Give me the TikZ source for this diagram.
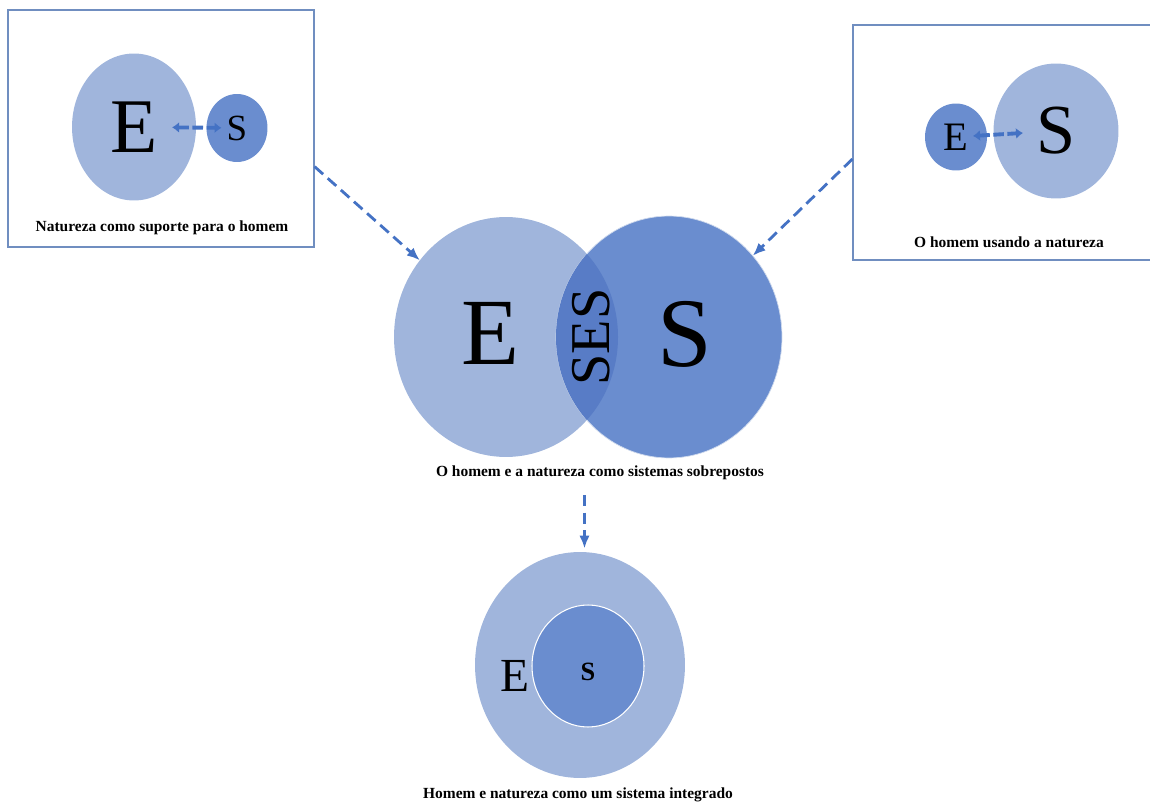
\documentclass[tikz,border=0pt]{standalone}
\usepackage{fontspec}
\setmainfont{Liberation Serif}
\usetikzlibrary{arrows.meta,calc,shapes.geometric}
\definecolor{Light}{RGB}{160,181,220}
\definecolor{Dark}{RGB}{106,141,207}
\definecolor{Overlap}{RGB}{88,124,198}
\definecolor{Edge}{RGB}{112,142,192}
\definecolor{Arrow}{RGB}{68,114,196}
\newcommand{\sz}[1]{\fontsize{#1}{#1}\selectfont}
\tikzset{
  frame/.style={draw=Edge,line width=0.7pt,inner sep=0pt},
  blob/.style={ellipse,inner sep=0pt,outer sep=0pt},
  lite/.style={blob,fill=Light},
  deep/.style={blob,fill=Dark},
  capt/.style={font=\bfseries\sz{8.8}},
  dashArr/.style={-{Latex[length=2.6mm,width=2.1mm]},line width=1.6pt,draw=Arrow,dash pattern=on 6.5pt off 3.5pt},
  biArr/.style={{Latex[length=1.4mm,width=2.2mm]}-{Latex[length=1.4mm,width=2.2mm]},line width=2.2pt,draw=Arrow,dash pattern=on 6pt off 2pt},
}
\begin{document}
\begin{tikzpicture}[x=0.02cm,y=-0.02cm]
  \useasboundingbox (0,0) rectangle (1150,804);

  % --- left panel: nature supports man ---
  \node[frame,minimum width=6.12cm,minimum height=4.74cm] (lbox) at (161,128.5) {};
  \node[lite,minimum width=2.48cm,minimum height=2.94cm,font=\sz{44}] (lE) at (134,127) {E};
  \node[deep,minimum width=1.22cm,minimum height=1.36cm,font=\sz{21}] (lS) at (237,128) {S};
  \draw[biArr] ($(lE)!0.37!(lS)$) -- ($(lE)!0.85!(lS)$);
  \node[capt] (capL) at (162,228) {Natureza como suporte para o homem};

  % --- right panel: man uses nature ---
  \node[frame,minimum width=6.14cm,minimum height=4.7cm] (rbox) at (1006.5,142.5) {};
  \node[deep,minimum width=1.24cm,minimum height=1.34cm,font=\sz{23}] (rE) at (956,137) {E};
  \node[lite,minimum width=2.5cm,minimum height=2.7cm,font=\sz{40}] (rS) at (1056,131) {S};
  \draw[biArr] ($(rE)!0.17!(rS)$) -- ($(rE)!0.67!(rS)$);
  \node[capt] (capR) at (1009,242) {O homem usando a natureza};

  % --- centre: overlapping systems ---
  \node[lite,minimum width=4.48cm,minimum height=4.8cm] (cE) at (506,337) {};
  \node[deep,minimum width=4.52cm,minimum height=4.84cm,draw=Light!50!white,line width=0.4pt] (cS) at (669,337) {};
  \begin{scope}
    \clip (cE.center) ellipse (112 and 120);
    \fill[Overlap] (cS.center) ellipse (113 and 121);
  \end{scope}
  \node[font=\sz{54}] (cEt) at (490,333) {E};
  \node[font=\sz{56}] (cSt) at (685,334) {S};
  \node[rotate=90,font=\sz{32}] (ses) at (591,337) {SES};
  \node[capt] (capC) at (600,473) {O homem e a natureza como sistemas sobrepostos};

  \draw[dashArr] ($(lbox.north east)!0.66!(lbox.south east)$) -- (cE);
  \draw[dashArr] ($(rbox.north west)!0.57!(rbox.south west)$) -- (cS);

  % --- bottom: integrated system ---
  \node[lite,minimum width=4.2cm,minimum height=4.52cm] (bOut) at (580,665) {};
  \node[deep,minimum width=2.24cm,minimum height=2.44cm,draw=white,line width=0.6pt] (bIn) at (588,666) {};
  \node[font=\sz{27}] (bEt) at (515,676) {E};
  \node[font=\bfseries\sz{15}] (bSt) at (588,672) {S};
  \node[capt] (capB) at (578,795) {Homem e natureza como um sistema integrado};

  \coordinate (aTop) at ([xshift=-2pt,yshift=-5pt]capC.south -| bIn.north);
  \draw[dashArr,shorten >=2pt] (aTop) -- (aTop |- bOut.north);
\end{tikzpicture}
\end{document}
